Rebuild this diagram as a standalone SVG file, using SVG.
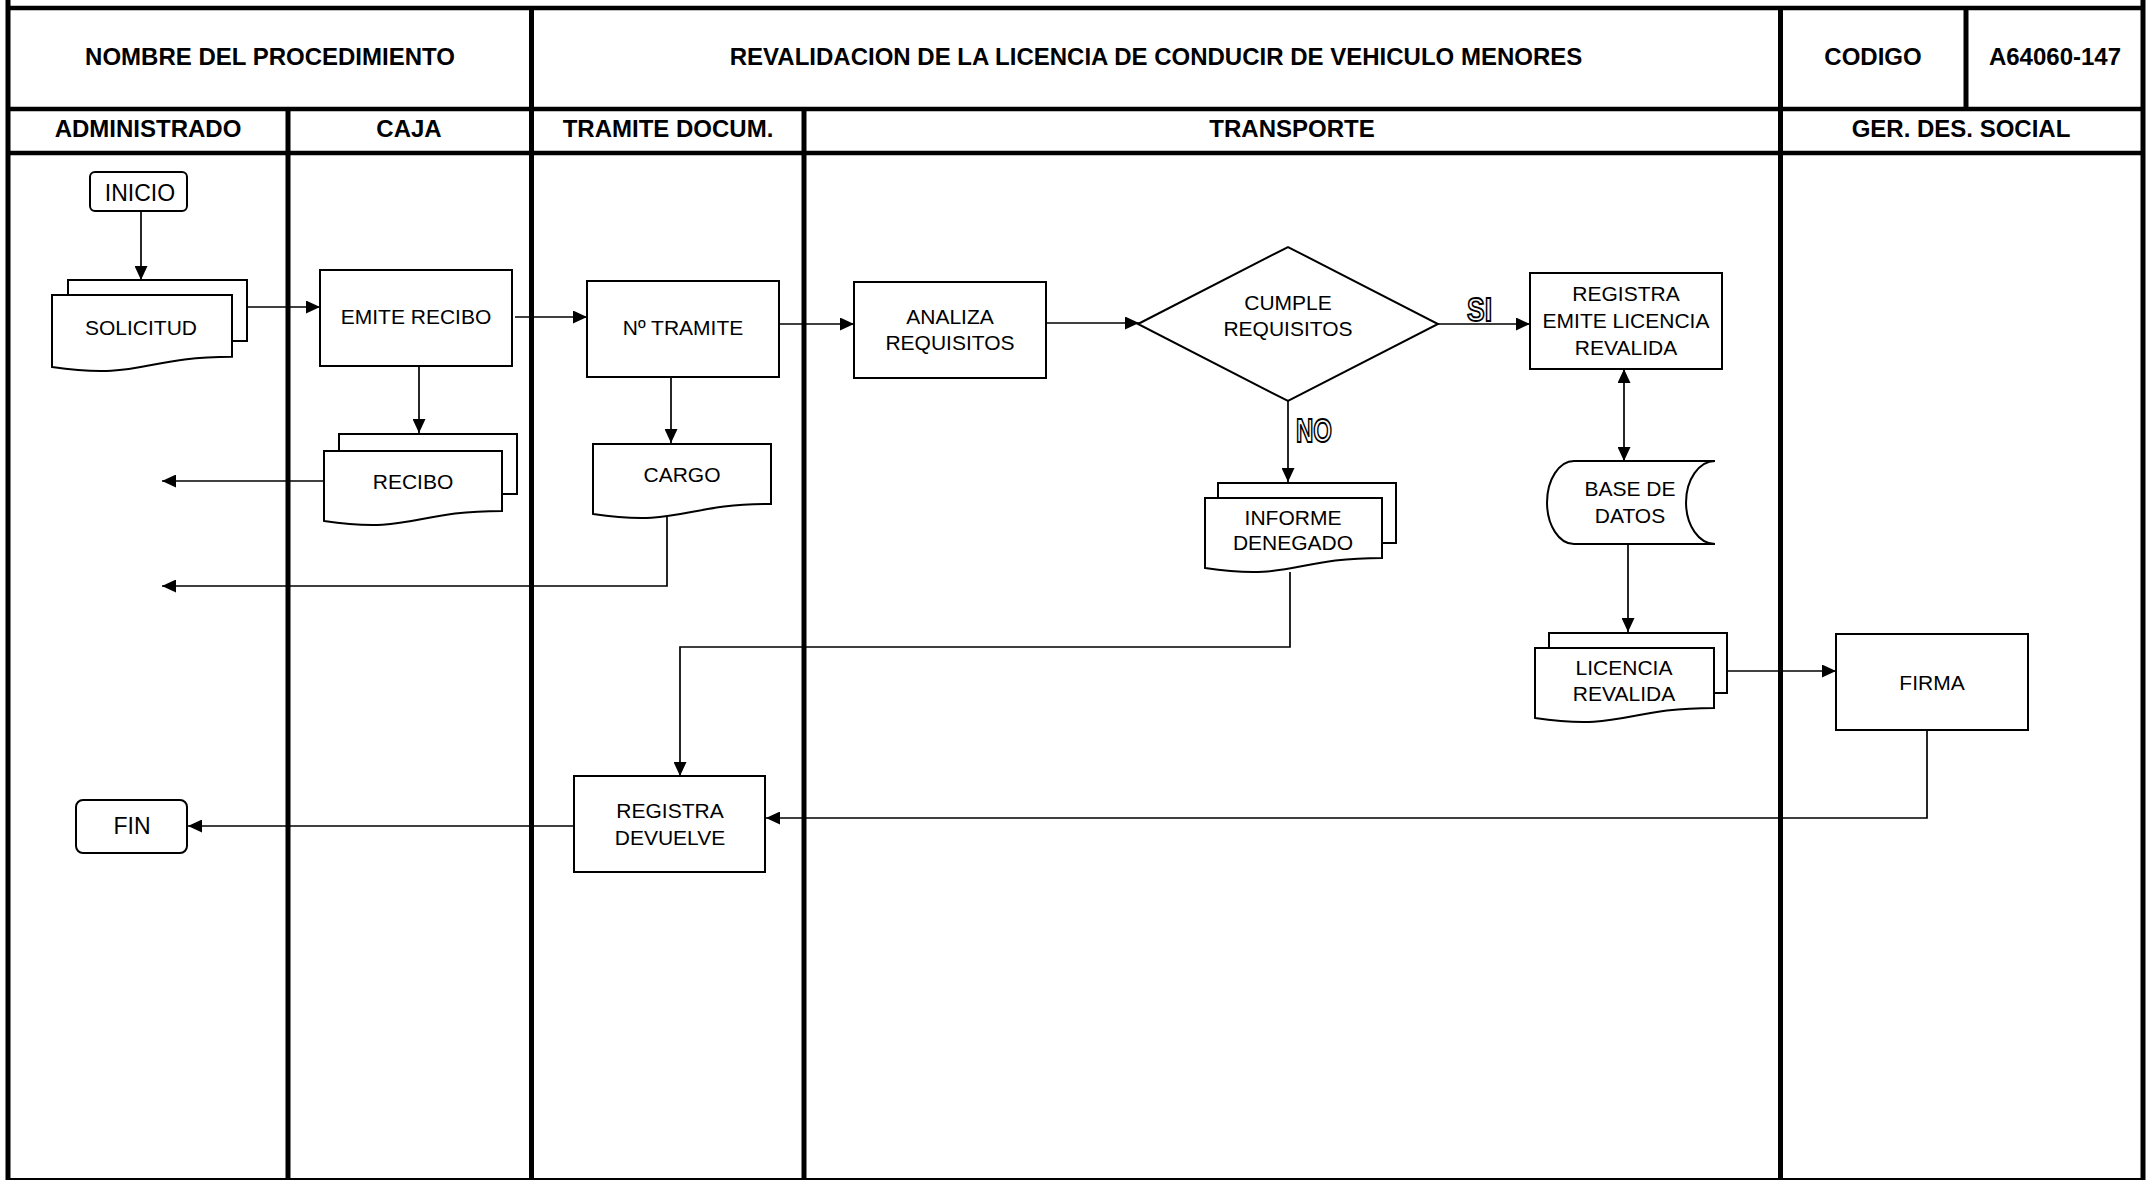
<svg xmlns="http://www.w3.org/2000/svg" width="2147" height="1180" viewBox="0 0 2147 1180">
<style>
.grid{stroke:#000;stroke-width:5;fill:none}
.hgrid{stroke:#000;stroke-width:4.5;fill:none}
.shape{fill:#fff;stroke:#000;stroke-width:2}
.conn{fill:none;stroke:#000;stroke-width:1.7}
.hd{font-family:"Liberation Sans",Arial,sans-serif;font-weight:bold;font-size:24px;text-anchor:middle;fill:#000}
.tx{font-family:"Liberation Sans",Arial,sans-serif;font-size:21px;text-anchor:middle;fill:#000}
.tt{font-family:"Liberation Sans",Arial,sans-serif;font-size:23px;text-anchor:middle;fill:#000}
.lbl{font-family:"Liberation Sans",Arial,sans-serif;font-weight:bold;font-size:34px;fill:#fff;stroke:#000;stroke-width:1.9}
</style>
<defs>
<marker id="ah" markerUnits="userSpaceOnUse" markerWidth="14" markerHeight="13" refX="14" refY="6.5" orient="auto-start-reverse">
<path d="M0,0 L14,6.5 L0,13 Z" fill="#000"/>
</marker>
</defs>
<rect width="2147" height="1180" fill="#fff"/>

<g id="table">
<line class="grid" x1="8" y1="0" x2="8" y2="1180"/>
<line class="grid" x1="2143" y1="0" x2="2143" y2="1180"/>
<line class="hgrid" x1="6" y1="8" x2="2145" y2="8"/>
<line class="hgrid" x1="6" y1="109" x2="2145" y2="109"/>
<line class="hgrid" x1="6" y1="153" x2="2145" y2="153"/>
<line class="hgrid" x1="6" y1="1179.5" x2="2145" y2="1179.5" style="stroke-width:3"/>
<line class="grid" x1="531.5" y1="8" x2="531.5" y2="1180"/>
<line class="grid" x1="1780.5" y1="8" x2="1780.5" y2="1180"/>
<line class="grid" x1="1966" y1="8" x2="1966" y2="109"/>
<line class="grid" x1="288" y1="109" x2="288" y2="1180"/>
<line class="grid" x1="804" y1="109" x2="804" y2="1180"/>
<text class="hd" x="270" y="65">NOMBRE DEL PROCEDIMIENTO</text>
<text class="hd" x="1156" y="65">REVALIDACION DE LA LICENCIA DE CONDUCIR DE VEHICULO MENORES</text>
<text class="hd" x="1873" y="65">CODIGO</text>
<text class="hd" x="2055" y="65">A64060-147</text>
<text class="hd" x="148" y="137">ADMINISTRADO</text>
<text class="hd" x="409" y="137">CAJA</text>
<text class="hd" x="668" y="137">TRAMITE DOCUM.</text>
<text class="hd" x="1292" y="137">TRANSPORTE</text>
<text class="hd" x="1961" y="137">GER. DES. SOCIAL</text>
</g>

<g id="connectors">
<line class="conn" x1="141" y1="211" x2="141" y2="280" marker-end="url(#ah)"/>
<line class="conn" x1="247" y1="307" x2="320" y2="307" marker-end="url(#ah)"/>
<line class="conn" x1="515" y1="317" x2="587" y2="317" marker-end="url(#ah)"/>
<line class="conn" x1="779" y1="324" x2="854" y2="324" marker-end="url(#ah)"/>
<line class="conn" x1="1046" y1="323" x2="1139" y2="323" marker-end="url(#ah)"/>
<line class="conn" x1="1438" y1="324" x2="1530" y2="324" marker-end="url(#ah)"/>
<line class="conn" x1="1288" y1="401" x2="1288" y2="482" marker-end="url(#ah)"/>
<line class="conn" x1="419" y1="366" x2="419" y2="433" marker-end="url(#ah)"/>
<line class="conn" x1="324" y1="481" x2="162" y2="481" marker-end="url(#ah)"/>
<line class="conn" x1="671" y1="377" x2="671" y2="443" marker-end="url(#ah)"/>
<polyline class="conn" points="667,517 667,586 162,586" marker-end="url(#ah)"/>
<polyline class="conn" points="1290,572 1290,647 680,647 680,776" marker-end="url(#ah)"/>
<line class="conn" x1="1624" y1="369" x2="1624" y2="461" marker-start="url(#ah)" marker-end="url(#ah)"/>
<line class="conn" x1="1628" y1="544" x2="1628" y2="632" marker-end="url(#ah)"/>
<line class="conn" x1="1714" y1="671" x2="1836" y2="671" marker-end="url(#ah)"/>
<polyline class="conn" points="1927,731 1927,818 766,818" marker-end="url(#ah)"/>
<line class="conn" x1="574" y1="826" x2="188" y2="826" marker-end="url(#ah)"/>
<text class="lbl" x="1467" y="321" textLength="25" lengthAdjust="spacingAndGlyphs">SI</text>
<text class="lbl" x="1296" y="442" textLength="36" lengthAdjust="spacingAndGlyphs">NO</text>
</g>

<g id="inicio">
<rect class="shape" x="90" y="172" width="97" height="39" rx="5"/>
<text class="tt" x="140" y="201">INICIO</text>
</g>

<g id="solicitud">
<path class="shape" d="M68,295 V280 H247 V341 H232"/>
<path class="shape" d="M52,295 H232 V356.8 C142,356.8 142,380.2 52,366.9 Z"/>
<text class="tx" x="141" y="334.5">SOLICITUD</text>
</g>

<g id="emite-recibo">
<rect class="shape" x="320" y="270" width="192" height="96"/>
<text class="tx" x="416" y="323.5">EMITE RECIBO</text>
</g>

<g id="recibo">
<path class="shape" d="M339,451 V434 H517 V494 H502"/>
<path class="shape" d="M324,451 H502 V511 C413,511 413,534 324,521 Z"/>
<text class="tx" x="413" y="488.5">RECIBO</text>
</g>

<g id="nro-tramite">
<rect class="shape" x="587" y="281" width="192" height="96"/>
<text class="tx" x="683" y="334.5">Nº TRAMITE</text>
</g>

<g id="cargo">
<path class="shape" d="M593,444 H771 V504 C682,504 682,527 593,514 Z"/>
<text class="tx" x="682" y="481.5">CARGO</text>
</g>

<g id="analiza">
<rect class="shape" x="854" y="282" width="192" height="96"/>
<text class="tx" x="950" y="323.5">ANALIZA</text>
<text class="tx" x="950" y="349.5">REQUISITOS</text>
</g>

<g id="cumple">
<polygon class="shape" points="1138,324 1288,247 1438,324 1288,401"/>
<text class="tx" x="1288" y="309.5">CUMPLE</text>
<text class="tx" x="1288" y="335.5">REQUISITOS</text>
</g>

<g id="informe">
<path class="shape" d="M1218,498 V483 H1396 V543 H1382"/>
<path class="shape" d="M1205,498 H1382 V558 C1293.5,558 1293.5,581 1205,568 Z"/>
<text class="tx" x="1293" y="524.5">INFORME</text>
<text class="tx" x="1293" y="549.5">DENEGADO</text>
</g>

<g id="registra-emite">
<rect class="shape" x="1530" y="273" width="192" height="96"/>
<text class="tx" x="1626" y="300.5">REGISTRA</text>
<text class="tx" x="1626" y="327.5">EMITE LICENCIA</text>
<text class="tx" x="1626" y="354.5">REVALIDA</text>
</g>

<g id="base-datos">
<path class="shape" d="M1574,461 H1715 A29,41.5 0 0 0 1715,544 H1574 A27,41.5 0 0 1 1574,461 Z"/>
<text class="tx" x="1630" y="495.5">BASE DE</text>
<text class="tx" x="1630" y="522.5">DATOS</text>
</g>

<g id="licencia">
<path class="shape" d="M1549,648 V633 H1727 V693 H1714"/>
<path class="shape" d="M1535,648 H1714 V708 C1624.5,708 1624.5,731 1535,718 Z"/>
<text class="tx" x="1624" y="674.5">LICENCIA</text>
<text class="tx" x="1624" y="700.5">REVALIDA</text>
</g>

<g id="firma">
<rect class="shape" x="1836" y="634" width="192" height="96"/>
<text class="tx" x="1932" y="689.5">FIRMA</text>
</g>

<g id="registra-devuelve">
<rect class="shape" x="574" y="776" width="191" height="96"/>
<text class="tx" x="670" y="817.5">REGISTRA</text>
<text class="tx" x="670" y="844.5">DEVUELVE</text>
</g>

<g id="fin">
<rect class="shape" x="76" y="800" width="111" height="53" rx="7"/>
<text class="tt" x="132" y="834">FIN</text>
</g>
</svg>
